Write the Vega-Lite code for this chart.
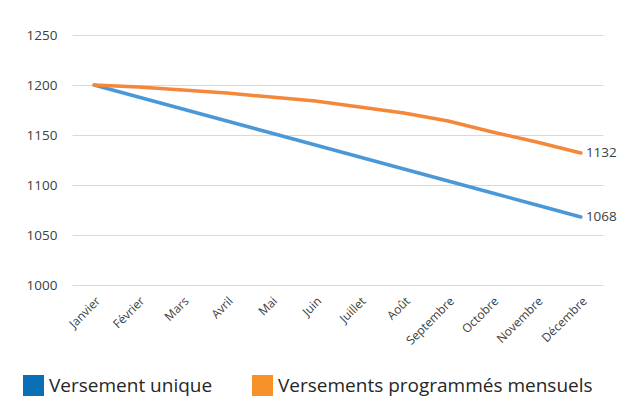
{
  "$schema": "https://vega.github.io/schema/vega-lite/v6.json",
  "width": 531,
  "height": 250,
  "autosize": "none",
  "padding": {"left": 72, "top": 35, "right": 22, "bottom": 122},
  "background": "white",
  "config": {
    "font": "Open Sans",
    "view": {"stroke": null},
    "axis": {"labelColor": "#404040", "labelFont": "Open Sans"}
  },
  "data": {
    "values": [
      {"mois": "Janvier", "serie": "Versement unique", "valeur": 1200},
      {"mois": "Février", "serie": "Versement unique", "valeur": 1188},
      {"mois": "Mars", "serie": "Versement unique", "valeur": 1176},
      {"mois": "Avril", "serie": "Versement unique", "valeur": 1164},
      {"mois": "Mai", "serie": "Versement unique", "valeur": 1152},
      {"mois": "Juin", "serie": "Versement unique", "valeur": 1140},
      {"mois": "Juillet", "serie": "Versement unique", "valeur": 1128},
      {"mois": "Août", "serie": "Versement unique", "valeur": 1116},
      {"mois": "Septembre", "serie": "Versement unique", "valeur": 1104},
      {"mois": "Octobre", "serie": "Versement unique", "valeur": 1092},
      {"mois": "Novembre", "serie": "Versement unique", "valeur": 1080},
      {"mois": "Décembre", "serie": "Versement unique", "valeur": 1068},
      {"mois": "Janvier", "serie": "Versements programmés mensuels", "valeur": 1200},
      {"mois": "Février", "serie": "Versements programmés mensuels", "valeur": 1198},
      {"mois": "Mars", "serie": "Versements programmés mensuels", "valeur": 1195},
      {"mois": "Avril", "serie": "Versements programmés mensuels", "valeur": 1192},
      {"mois": "Mai", "serie": "Versements programmés mensuels", "valeur": 1188},
      {"mois": "Juin", "serie": "Versements programmés mensuels", "valeur": 1184},
      {"mois": "Juillet", "serie": "Versements programmés mensuels", "valeur": 1178},
      {"mois": "Août", "serie": "Versements programmés mensuels", "valeur": 1172},
      {"mois": "Septembre", "serie": "Versements programmés mensuels", "valeur": 1164},
      {"mois": "Octobre", "serie": "Versements programmés mensuels", "valeur": 1153},
      {"mois": "Novembre", "serie": "Versements programmés mensuels", "valeur": 1143},
      {"mois": "Décembre", "serie": "Versements programmés mensuels", "valeur": 1132}
    ]
  },
  "encoding": {
    "x": {
      "field": "mois",
      "type": "nominal",
      "sort": null,
      "scale": {"type": "point", "padding": 0.5},
      "axis": {
        "title": null,
        "labelAngle": -45,
        "labelFontSize": 12,
        "labelPadding": 10,
        "ticks": false,
        "domain": false,
        "grid": false
      }
    },
    "y": {
      "field": "valeur",
      "type": "quantitative",
      "scale": {"domain": [1000, 1250], "nice": false, "zero": false},
      "axis": {
        "title": null,
        "format": "d",
        "values": [1000, 1050, 1100, 1150, 1200, 1250],
        "labelFontSize": 13.5,
        "labelPadding": 15,
        "ticks": false,
        "domain": false,
        "gridColor": "#d9d9d9",
        "gridWidth": 1
      }
    }
  },
  "layer": [
    {
      "mark": {"type": "line", "strokeWidth": 3.5, "strokeCap": "round"},
      "encoding": {
        "color": {
          "field": "serie",
          "type": "nominal",
          "scale": {
            "domain": ["Versement unique", "Versements programmés mensuels"],
            "range": ["#4a98d8", "#f4873a"]
          },
          "legend": {
            "title": null,
            "orient": "none",
            "direction": "horizontal",
            "legendX": -49,
            "legendY": 340,
            "symbolType": "square",
            "symbolSize": 441,
            "labelFontSize": 19,
            "labelColor": "#262626",
            "labelFont": "Open Sans",
            "labelOffset": 5,
            "columnPadding": 39,
            "labelLimit": 500,
            "encode": {
              "symbols": {
                "update": {
                  "fill": {"signal": "datum.value === 'Versement unique' ? '#0b6fb5' : '#f7922a'"},
                  "strokeWidth": {"value": 0},
                  "opacity": {"value": 1}
                }
              }
            }
          }
        }
      }
    },
    {
      "transform": [{"filter": "datum.mois === 'Décembre'"}],
      "mark": {"type": "text", "align": "left", "dx": 5, "fontSize": 13.5, "color": "#404040", "font": "Open Sans"},
      "encoding": {"text": {"field": "valeur", "type": "quantitative"}}
    }
  ]
}
